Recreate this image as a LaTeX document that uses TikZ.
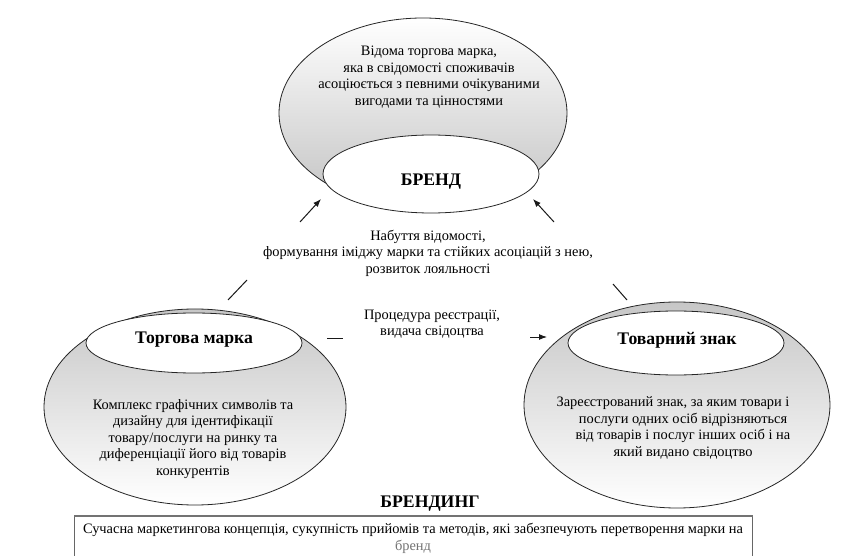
\documentclass[tikz,border=0pt]{standalone}
\usepackage{fontspec}
\setmainfont{Liberation Serif}
\usetikzlibrary{shapes.geometric,arrows.meta}
\begin{document}
\begin{tikzpicture}[x=1pt,y=-1pt,
  oval/.style={ellipse, draw=black!85, line width=0.8pt, inner sep=0pt},
  topshade/.style={top color=white, bottom color=black!24},
  botshade/.style={top color=black!22, bottom color=white},
  txt/.style={align=center, inner sep=0pt, text=black, font=\fontsize{14.4}{16.5}\selectfont},
  ttl/.style={inner sep=0pt, text=black, font=\fontsize{17.7}{20}\selectfont\bfseries},
  link/.style={draw=black!90, line width=1pt},
  arr/.style={link, -{Latex[length=8pt,width=6pt]}}]
\useasboundingbox (0,0) rectangle (844,556);
\fill[white] (0,0) rectangle (844,556);

% top: brand
\node[oval, topshade, minimum width=288pt, minimum height=190pt] (brandOuter) at (423,113) {};
\node[oval, fill=white, minimum width=216pt, minimum height=78pt] (brand) at (431,174) {};
\node[txt] (brandText) at (429,77) {Відома торгова марка,\\ яка в свідомості споживачів\\ асоціюється з певними очікуваними\\ вигодами та цінностями};
\node[ttl] (brandTitle) at (431,182) {БРЕНД};

% left: trade mark
\node[oval, botshade, minimum width=302pt, minimum height=196pt] (tmOuter) at (195,407) {};
\node[oval, fill=white, minimum width=216pt, minimum height=60pt] (tm) at (194,343) {};
\node[ttl] (tmTitle) at (194,340) {Торгова марка};
\node[txt] (tmText) at (193,439) {Комплекс графічних символів та\\ дизайну для ідентифікації\\ товару/послуги на ринку та\\ диференціації його від товарів\\ конкурентів};

% right: registered sign
\node[oval, botshade, minimum width=306pt, minimum height=206pt] (znOuter) at (677,405) {};
\node[oval, fill=white, minimum width=216pt, minimum height=64pt] (zn) at (676,343) {};
\node[ttl] (znTitle) at (677,340) {Товарний знак};
\node[txt] (znText) at (683,428) {Зареєстрований знак, за яким товари і\hspace*{20pt}\\ послуги одних осіб відрізняються\\ від товарів і послуг інших осіб і на\\ який видано свідоцтво};

% middle labels
\node[txt] (lblTop) at (428,253) {Набуття відомості,\\ формування іміджу марки та стійких асоціацій з нею,\\ розвиток лояльності};
\node[txt] (lblProc) at (432,324) {Процедура реєстрації,\\ видача свідоцтва};

% connectors
\coordinate (l1) at (228,300);
\coordinate (l2) at (247,280);
\coordinate (l3) at (300,222);
\coordinate (l4) at (321,199);
\coordinate (r1) at (627,300);
\coordinate (r2) at (613,284);
\coordinate (r3) at (554,222);
\coordinate (r4) at (533,199);
\coordinate (h1) at (327,338);
\coordinate (h2) at (343,338);
\coordinate (h3) at (530,337);
\coordinate (h4) at (547,337);
\draw[link] (l1) -- (l2);
\draw[arr] (l3) -- (l4);
\draw[link] (r1) -- (r2);
\draw[arr] (r3) -- (r4);
\draw[link] (h1) -- (h2);
\draw[arr] (h3) -- (h4);

% branding
\node[ttl] (brandingTitle) at (430,504) {БРЕНДИНГ};
\node[draw=black!60, line width=0.8pt, minimum width=678pt, minimum height=80pt, anchor=north west] (brandingBox) at (74,516) {};
\draw[black!55, line width=2.2pt] (brandingBox.north west) -- (brandingBox.north east);
\node[txt, anchor=north] (brandingText) at (413,523) {Сучасна маркетингова концепція, сукупність прийомів та методів, які забезпечують перетворення марки на\\ \textcolor{black!55}{бренд}};
\end{tikzpicture}
\end{document}
